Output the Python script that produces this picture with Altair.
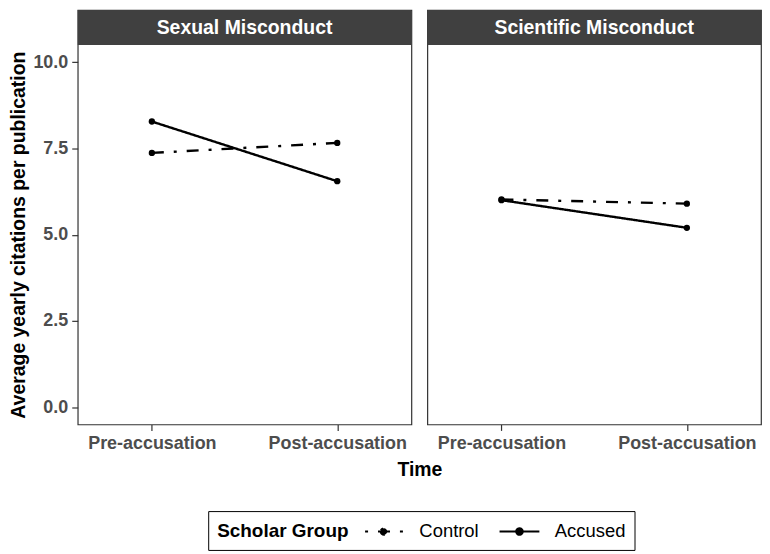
import altair as alt
import pandas as pd

# ---- data ----
panels = ["Sexual Misconduct", "Scientific Misconduct"]
time_labels = ["Pre-accusation", "Post-accusation"]
groups = ["Control", "Accused"]
sexual_control = [7.37, 7.66]
sexual_accused = [8.28, 6.55]
scientific_control = [6.02, 5.90]
scientific_accused = [6.00, 5.20]
y_ticks = [0, 2.5, 5, 7.5, 10]

W = 335
STRIP_H = 35
PLOT_H = 381
H = STRIP_H + PLOT_H
GAP = 16
FONT = "Liberation Sans"
GREY = "#4D4D4D"
DARK = "#333333"
STRIP = "#404040"

# line with a dot, 4 units wide (symbol box is 2 units): extends beyond nominal box
LEGEND_SYMBOL = "M-2,0H2M-0.32,0A0.32,0.32,0,1,1,0.32,0A0.32,0.32,0,1,1,-0.32,0Z"


def panel_df(control, accused):
    rows = []
    for g, vals in zip(groups, [control, accused]):
        for t, v in zip(time_labels, vals):
            rows.append({"Time": t, "Group": g, "Value": v})
    return pd.DataFrame(rows)


def panel(label, df, first):
    if first:
        xaxis = alt.Axis(title="Time", titleX=W + GAP / 2, titlePadding=8)
        yaxis = alt.Axis(title="Average yearly citations per publication",
                         values=y_ticks, format=".1f", titlePadding=4)
    else:
        xaxis = alt.Axis(title=None)
        yaxis = None
    x = alt.X("Time:N", sort=time_labels,
              scale=alt.Scale(type="point", padding=0.4), axis=xaxis)
    y = alt.Y("Value:Q",
              scale=alt.Scale(domain=[-0.5, 10.5], nice=False, zero=False,
                              range=[H, STRIP_H]),
              axis=yaxis)
    legend = alt.Legend(
        title="Scholar Group", orient="none", legendX=131, legendY=503,
        direction="horizontal", titleOrient="left", strokeColor="black",
        padding=9, titleFontSize=19, titleFont=FONT, titleFontWeight="bold",
        titleColor="black", labelFontSize=18.5, labelFont=FONT, labelColor="black",
        symbolType=LEGEND_SYMBOL, symbolSize=400, symbolStrokeWidth=2.2,
        symbolStrokeColor="black", symbolFillColor="black", symbolDashOffset=21,
        titlePadding=24, labelOffset=24, columnPadding=16,
    )
    base = alt.Chart(pd.DataFrame({"label": [label]}))
    rect = base.mark_rect(color=STRIP).encode(
        x=alt.value(0), x2=alt.value(W), y=alt.value(0), y2=alt.value(STRIP_H)
    )
    text = base.mark_text(
        color="white", font=FONT, fontSize=19.5, fontWeight="bold",
        baseline="middle", align="center"
    ).encode(x=alt.value(W / 2), y=alt.value(STRIP_H / 2 + 1), text="label:N")
    line = alt.Chart(df).mark_line(color="black", strokeWidth=2.4).encode(
        x=x, y=y,
        strokeDash=alt.StrokeDash(
            "Group:N",
            scale=alt.Scale(domain=groups, range=[[12, 10, 3, 10], [1, 0]]),
            legend=legend if first else None,
        ),
    )
    pts = alt.Chart(df).mark_point(filled=True, color="black", size=40, opacity=1).encode(
        x=x, y=y, detail="Group:N"
    )
    return alt.layer(rect, text, line, pts).properties(width=W, height=H)


p1 = panel(panels[0], panel_df(sexual_control, sexual_accused), True)
p2 = panel(panels[1], panel_df(scientific_control, scientific_accused), False)

chart = alt.hconcat(p1, p2, spacing=GAP, bounds="flush").resolve_scale(
    strokeDash="shared"
).properties(padding=0).configure(font=FONT).configure_view(
    stroke=DARK, strokeWidth=1.2
).configure_axis(
    grid=False, domain=False, tickColor=DARK, tickSize=6, tickWidth=1.2,
    labelColor=GREY, labelFontWeight="bold", labelFontSize=18, labelFont=FONT,
    labelPadding=4, titleColor="black", titleFontSize=19.5, titleFontWeight="bold",
    titleFont=FONT,
).configure_axisX(labelAngle=0)

chart.save("out.html", embed_options={"renderer": "svg", "actions": False})
